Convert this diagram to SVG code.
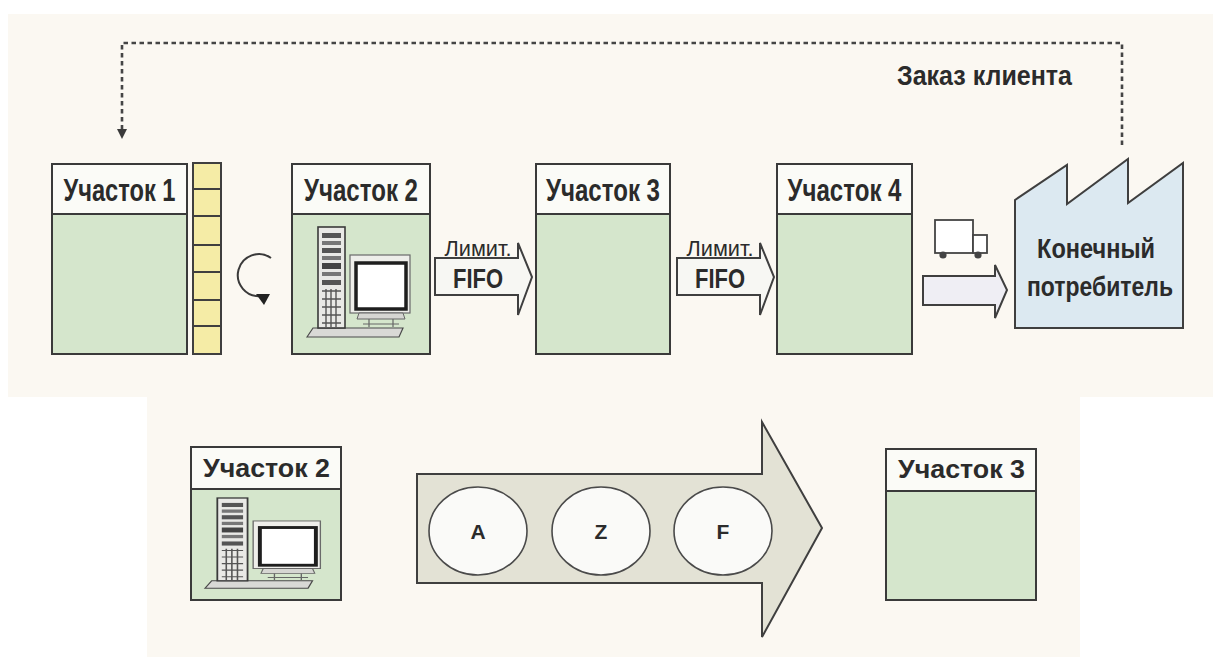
<svg xmlns="http://www.w3.org/2000/svg" width="1213" height="657" viewBox="0 0 1213 657">
  <style>
    .panel{fill:#fbf8f2}
    .body{fill:#d5e6cc;stroke:#3a3a3a;stroke-width:2}
    .head{fill:#fbfbf7;stroke:#3a3a3a;stroke-width:2}
    .hdr{font-family:"Liberation Sans",Arial,sans-serif;font-weight:bold;fill:#2b2b2b;text-anchor:middle}
    .lbl{font-family:"Liberation Sans",Arial,sans-serif;fill:#2b2b2b;text-anchor:middle}
    .dot{fill:none;stroke:#454545;stroke-width:2.6;stroke-dasharray:4.5 3.5}
    .blk{stroke:#3f3f3f;stroke-width:2;stroke-linejoin:miter}
    .disc{fill:#fafaf8;stroke:#4a4a4a;stroke-width:1.6}
  </style>
  <defs>
    <!-- workstation icon: tower, monitor, keyboard base -->
    <g id="pc">
      <path d="M0,110 L6,101 H96 L92,110 Z" fill="#d9d9d6" stroke="#4a4a4a" stroke-width="1.2"/>
      <rect x="11" y="0" width="27" height="101" fill="#e9e9e6" stroke="#3a3a3a" stroke-width="1.6"/>
      <rect x="15" y="6" width="19" height="5" fill="#555"/>
      <rect x="15" y="14" width="19" height="4" fill="#777"/>
      <rect x="15" y="21" width="19" height="5" fill="#555"/>
      <rect x="15" y="29" width="19" height="4" fill="#777"/>
      <rect x="15" y="36" width="19" height="6" fill="#444"/>
      <rect x="15" y="45" width="19" height="4" fill="#777"/>
      <rect x="15" y="53" width="19" height="5" fill="#555"/>
      <path d="M15,64 H34 M15,72 H34 M15,80 H34 M15,88 H34 M15,96 H34 M19,62 V100 M24,62 V100 M29,62 V100" stroke="#555" stroke-width="1.4"/>
      <rect x="43" y="28" width="60" height="58" fill="#eeeeea" stroke="#6a6a6a" stroke-width="1.2"/>
      <rect x="49" y="36" width="50" height="46" fill="#ffffff" stroke="#1e1e1e" stroke-width="3.5"/>
      <path d="M52,86 H96 L98,92 H50 Z" fill="#d6d6d2" stroke="#666" stroke-width="1"/>
      <path d="M62,92 V100 M86,92 V100 M56,97 H92" stroke="#666" stroke-width="1.2"/>
    </g>
  </defs>

  <!-- backgrounds -->
  <rect x="0" y="0" width="1213" height="657" fill="#ffffff"/>
  <rect class="panel" x="8" y="14" width="1205" height="383"/>
  <rect class="panel" x="147" y="397" width="933" height="260"/>

  <!-- connectors -->
  <g id="connectors">
    <path class="dot" d="M1122,145 V43 H122 V130"/>
    <polygon points="117,129 127,129 122,139" fill="#3a3a3a"/>
    <path class="blk" fill="#f7f7f3" d="M435,258 H518 V243 L532,277 L518,315 V295 H435 Z"/>
    <path class="blk" fill="#f7f7f3" d="M677,258 H760 V243 L774,277 L760,315 V295 H677 Z"/>
    <path class="blk" fill="#efeef4" d="M923,276 H995 V265 L1007,290 L995,318 V305 H923 Z"/>
    <path class="blk" fill="#e3e2d5" d="M417,474 H762 V422 L822,528 L762,637 V583 H417 Z"/>
  </g>

  <!-- arrow labels -->
  <g id="fifo-labels">
    <text class="lbl" x="478" y="256" font-size="22" textLength="67" lengthAdjust="spacingAndGlyphs">Лимит.</text>
    <text class="lbl" x="478" y="288" font-size="28" font-weight="bold" textLength="50" lengthAdjust="spacingAndGlyphs">FIFO</text>
    <text class="lbl" x="720" y="256" font-size="22" textLength="67" lengthAdjust="spacingAndGlyphs">Лимит.</text>
    <text class="lbl" x="720" y="288" font-size="28" font-weight="bold" textLength="50" lengthAdjust="spacingAndGlyphs">FIFO</text>
    <text class="hdr" x="984.5" y="85" font-size="28" textLength="175" lengthAdjust="spacingAndGlyphs">Заказ клиента</text>
  </g>

  <!-- sections, top row -->
  <g id="section-1">
    <rect class="body" x="52" y="164" width="135" height="190"/>
    <rect class="head" x="52" y="164" width="135" height="50"/>
    <text class="hdr" x="119.5" y="201" font-size="31" textLength="112" lengthAdjust="spacingAndGlyphs">Участок 1</text>
  </g>
  <g id="buffer">
    <rect x="193" y="163" width="28" height="191" fill="#f5eca6" stroke="#3f3f3f" stroke-width="2"/>
    <path d="M193,189 H221 M193,216 H221 M193,245 H221 M193,272 H221 M193,300 H221 M193,326 H221" stroke="#3f3f3f" stroke-width="2"/>
  </g>
  <g id="cycle">
    <path d="M271,258 A21,21 0 1 0 261,296" fill="none" stroke="#3a3a3a" stroke-width="2"/>
    <polygon points="256,294 270,294 264,305" fill="#222"/>
  </g>
  <g id="section-2">
    <rect class="body" x="292" y="164" width="138" height="190"/>
    <rect class="head" x="292" y="164" width="138" height="50"/>
    <text class="hdr" x="361" y="201" font-size="31" textLength="114" lengthAdjust="spacingAndGlyphs">Участок 2</text>
    <use href="#pc" transform="translate(307,227)"/>
  </g>
  <g id="section-3">
    <rect class="body" x="536" y="164" width="134" height="190"/>
    <rect class="head" x="536" y="164" width="134" height="50"/>
    <text class="hdr" x="603" y="201" font-size="31" textLength="114" lengthAdjust="spacingAndGlyphs">Участок 3</text>
  </g>
  <g id="section-4">
    <rect class="body" x="777" y="164" width="135" height="190"/>
    <rect class="head" x="777" y="164" width="135" height="50"/>
    <text class="hdr" x="844.5" y="201" font-size="31" textLength="114" lengthAdjust="spacingAndGlyphs">Участок 4</text>
  </g>
  <g id="truck">
    <rect x="935" y="220" width="38" height="33" fill="#ffffff" stroke="#444" stroke-width="1.8"/>
    <rect x="973" y="235" width="14" height="18" fill="#ffffff" stroke="#444" stroke-width="1.8"/>
    <circle cx="943" cy="255" r="3.6" fill="#444"/>
    <circle cx="978" cy="255" r="3.6" fill="#444"/>
  </g>
  <g id="customer">
    <path d="M1015,328 V200 L1067,165 V204 L1128,159 V203 L1183,163 V328 Z" fill="#dce9f1" stroke="#3f3f3f" stroke-width="2"/>
    <text class="hdr" x="1096" y="258" font-size="28" textLength="118" lengthAdjust="spacingAndGlyphs">Конечный</text>
    <text class="hdr" x="1100" y="296" font-size="28" textLength="146" lengthAdjust="spacingAndGlyphs">потребитель</text>
  </g>

  <!-- detail row -->
  <g id="detail-section-2">
    <rect class="body" x="191" y="447" width="150" height="153"/>
    <rect class="head" x="191" y="447" width="150" height="42"/>
    <text class="hdr" x="266.5" y="477" font-size="26" textLength="127" lengthAdjust="spacingAndGlyphs">Участок 2</text>
    <use href="#pc" transform="translate(205,498) scale(1.12,0.82)"/>
  </g>
  <g id="kanban-a">
    <ellipse class="disc" cx="478" cy="531" rx="49" ry="44"/>
    <text class="hdr" x="478" y="539" font-size="21">A</text>
  </g>
  <g id="kanban-z">
    <ellipse class="disc" cx="601" cy="531" rx="49" ry="44"/>
    <text class="hdr" x="601" y="539" font-size="21">Z</text>
  </g>
  <g id="kanban-f">
    <ellipse class="disc" cx="723" cy="531" rx="49" ry="44"/>
    <text class="hdr" x="723" y="539" font-size="21">F</text>
  </g>
  <g id="detail-section-3">
    <rect class="body" x="886" y="449" width="150" height="151"/>
    <rect class="head" x="886" y="449" width="150" height="42"/>
    <text class="hdr" x="961.5" y="478" font-size="26" textLength="127" lengthAdjust="spacingAndGlyphs">Участок 3</text>
  </g>
</svg>
